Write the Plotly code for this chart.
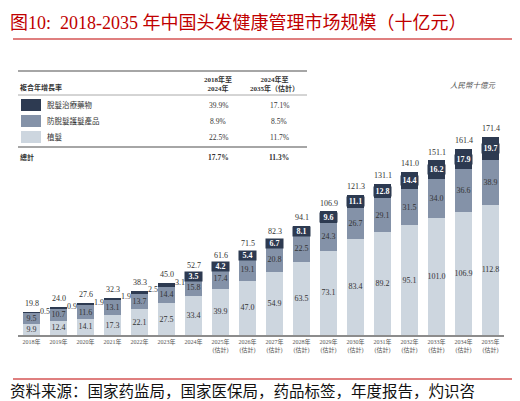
import plotly.graph_objects as go

W, H = 520, 401

years = list(range(2018, 2036))
tick_labels = [f"{y}年" if y <= 2024 else f"{y}年<br>(估計)" for y in years]

transplant = [9.9, 12.4, 14.1, 17.3, 22.1, 27.5, 33.4, 39.9, 47.0, 54.9, 63.5, 73.1, 83.4, 89.2, 95.1, 101.0, 106.9, 112.8]
care = [9.5, 10.7, 11.6, 13.1, 13.7, 14.4, 15.8, 17.4, 19.1, 20.8, 22.5, 24.3, 26.7, 29.1, 31.5, 34.0, 36.6, 38.9]
drugs = [0.5, 0.9, 1.9, 1.9, 2.5, 3.1, 3.5, 4.2, 5.4, 6.7, 8.1, 9.6, 11.1, 12.8, 14.4, 16.2, 17.9, 19.7]
totals = [19.8, 24.0, 27.6, 32.3, 38.3, 45.0, 52.7, 61.6, 71.5, 82.3, 94.1, 106.9, 121.3, 131.1, 141.0, 151.1, 161.4, 171.4]

seg_names = ["脫髮治療藥物", "防脫髮護髮產品", "植髮"]
cagr_1824 = ["39.9%", "8.9%", "22.5%"]
cagr_2435 = ["17.1%", "8.5%", "11.7%"]
total_cagr = ["17.7%", "11.3%"]

DARK, MID, LIGHT = "#2d3a51", "#8492a8", "#cdd6df"
SERIF = "Liberation Serif, Noto Sans CJK TC"
TXT = "#333333"

n_small = 6  # 2018-2023: drug labels sit outside the bar

fig = go.Figure()
fig.add_bar(x=tick_labels, y=transplant, marker_color=LIGHT, name="植髮",
            text=[f"{v:.1f}" for v in transplant], textposition="inside",
            insidetextanchor="middle", textfont=dict(size=8, color=TXT, family=SERIF))
fig.add_bar(x=tick_labels, y=care, marker_color=MID, name="防脫髮護髮產品",
            text=[f"{v:.1f}" for v in care], textposition="inside",
            insidetextanchor="middle", textfont=dict(size=8, color=TXT, family=SERIF))
fig.add_bar(x=tick_labels, y=drugs, marker_color=DARK, name="脫髮治療藥物", textposition="none")
fig.update_traces(selector=dict(type="bar"), marker_line_width=0, textangle=0,
                  constraintext="none", width=0.63)

for i in range(len(years)):
    # total above the bar
    fig.add_annotation(x=i, y=totals[i], text=f"{totals[i]:.1f}", showarrow=False,
                       xanchor="center", yanchor="bottom", yshift=2,
                       font=dict(size=8, color=TXT, family=SERIF))
    if i < n_small:
        fig.add_annotation(x=i, y=totals[i], text=f"{drugs[i]:.1f}", showarrow=False,
                           xanchor="left", yanchor="middle", xshift=6, yshift=1,
                           font=dict(size=8, color=TXT, family=SERIF))
    else:
        fig.add_annotation(x=i, y=transplant[i] + care[i] + drugs[i] / 2, text=f"<b>{drugs[i]:.1f}</b>",
                           showarrow=False, xanchor="center", yanchor="middle",
                           bgcolor=DARK, borderpad=0, width=17,
                           font=dict(size=8, color="white", family=SERIF))

x0, x1 = 10 / W, 496 / W
y0, y1 = 1 - 327 / H, 1 - 110 / H
fig.update_layout(
    width=W, height=H, margin=dict(l=0, r=0, t=0, b=0), barmode="stack",
    plot_bgcolor="white", paper_bgcolor="white", showlegend=False,
    xaxis=dict(type="category", domain=[x0, x1], range=[-0.5, len(years) - 0.5],
               showline=True, linecolor="#8c8c8c", linewidth=1.5, ticks="",
               tickfont=dict(size=6, color="#555555", family=SERIF)),
    yaxis=dict(domain=[y0, y1], range=[0, 188], visible=False),
)

def px(x):
    return x / W

def py(y):
    return 1 - y / H

def text(x, y, s, size=7.5, color=TXT, anchor="left", family=SERIF):
    fig.add_annotation(x=px(x), y=py(y), xref="paper", yref="paper", text=s, showarrow=False,
                       xanchor=anchor, yanchor="middle", font=dict(size=size, color=color, family=family))

def hline(y, x_a, x_b, color, w):
    fig.add_shape(type="line", xref="paper", yref="paper", x0=px(x_a), x1=px(x_b),
                  y0=py(y), y1=py(y), line=dict(color=color, width=w))

# title and source
text(0, 15, "图10:  2018-2035 年中国头发健康管理市场规模（十亿元）", size=18, color="#c00000",
     family="Liberation Serif, Noto Sans CJK SC")
hline(31, 5, 513, "#c00000", 1.2)
hline(371, 5, 513, "#c00000", 1.2)
text(0, 382, "资料来源：国家药监局，国家医保局，药品标签，年度报告，灼识咨", size=15.5, color="#111111",
     family="Noto Sans CJK SC")

# CAGR table
hline(63, 10, 299, "#888888", 1.3)
hline(87, 10, 299, "#aaaaaa", 1)
hline(139, 10, 299, "#888888", 1.3)
text(10, 79, "<b>複合年增長率</b>", size=7)
text(210, 76, "<b>2018年至<br>2024年</b>", size=7, anchor="center")
text(266, 76, "<b>2024年至<br>2035年（估計）</b>", size=7, anchor="center")
for k, (nm, c, a, b) in enumerate(zip(seg_names, [DARK, MID, LIGHT], cagr_1824, cagr_2435)):
    yc = 97 + 16 * k
    fig.add_shape(type="rect", xref="paper", yref="paper", x0=px(13), x1=px(33),
                  y0=py(yc - 6), y1=py(yc + 6), fillcolor=c, line_width=0)
    text(37, yc, nm, size=7.5)
    text(210, yc, a, size=7.5, anchor="center")
    text(271, yc, b, size=7.5, anchor="center")
text(10, 149, "<b>總計</b>", size=7)
text(210, 149, f"<b>{total_cagr[0]}</b>", size=7.5, anchor="center")
text(271, 149, f"<b>{total_cagr[1]}</b>", size=7.5, anchor="center")

text(465, 77, "<i>人民幣十億元</i>", size=7.5, color="#555555", anchor="center")

fig.write_html("out.html")
